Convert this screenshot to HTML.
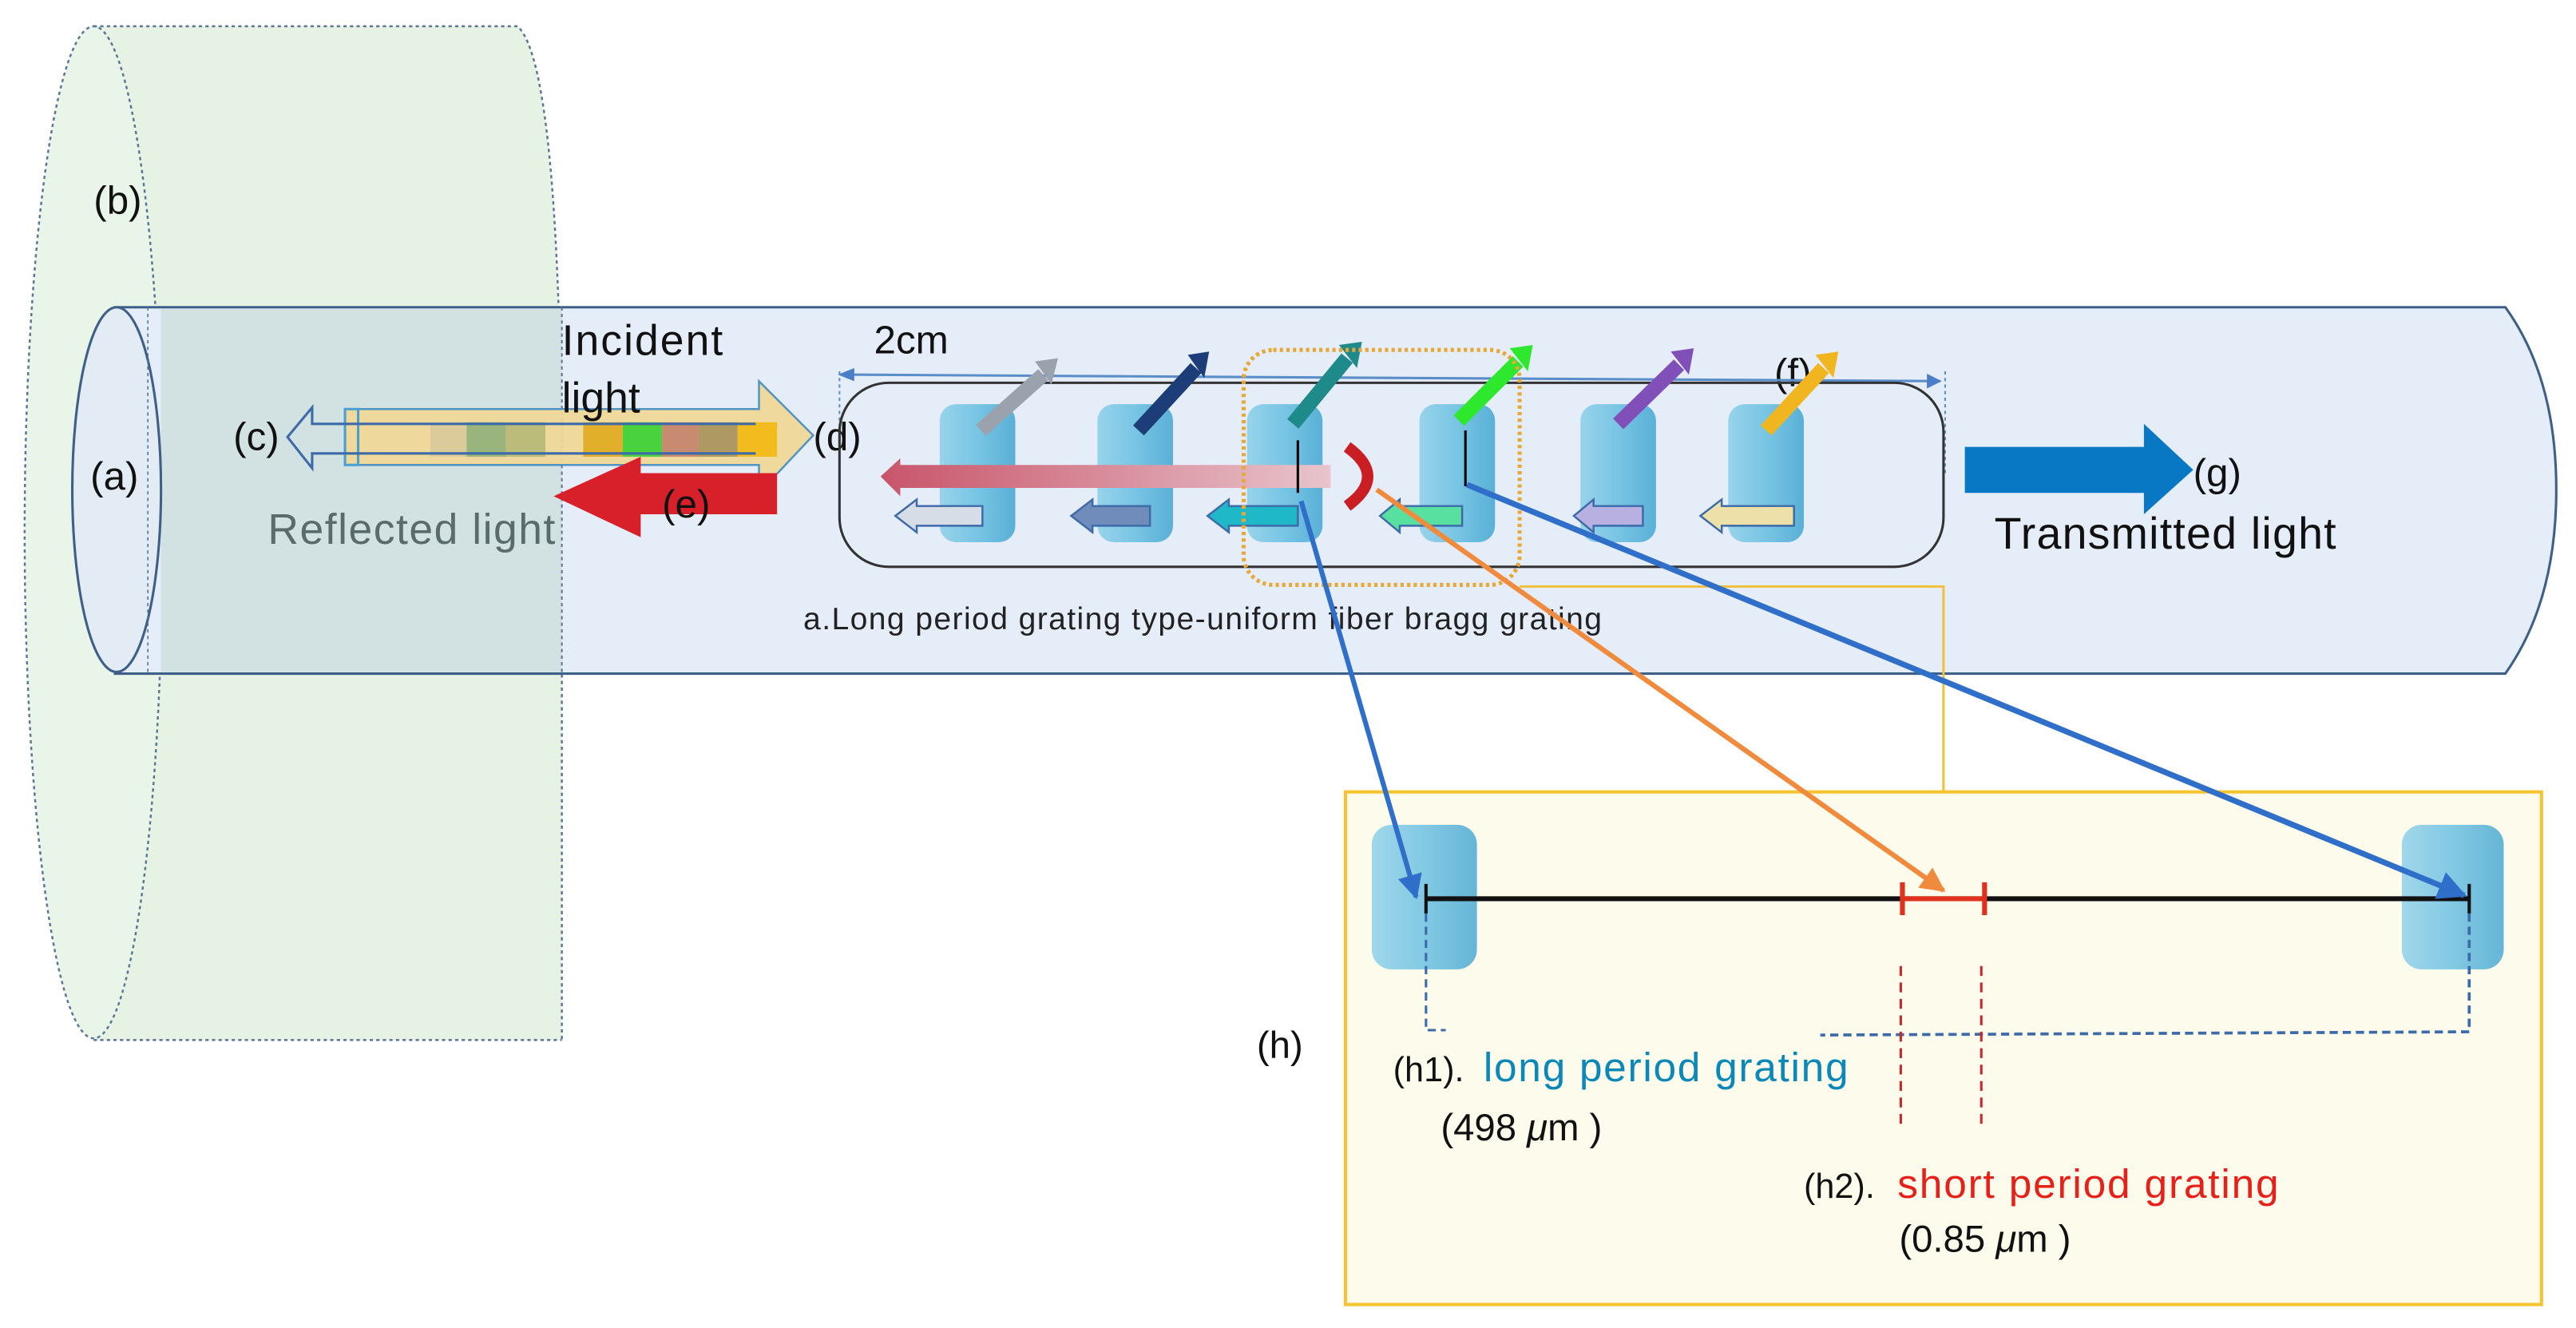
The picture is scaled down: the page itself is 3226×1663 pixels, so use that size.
<!DOCTYPE html>
<html><head><meta charset="utf-8"><style>
html,body{margin:0;padding:0;background:#fff;}
svg{display:block;}
text{font-family:"Liberation Sans",sans-serif;}
</style></head><body>
<svg width="3226" height="1663" viewBox="0 0 1568 808.3" preserveAspectRatio="none" xmlns="http://www.w3.org/2000/svg">
<defs>
<linearGradient id="disc" x1="0" x2="1" y1="0" y2="0"><stop offset="0" stop-color="#8fd0ea"/><stop offset="0.5" stop-color="#6cc0e2"/><stop offset="1" stop-color="#4aa9d3"/></linearGradient>
<linearGradient id="pink" x1="0" x2="1"><stop offset="0" stop-color="#c8556a"/><stop offset="1" stop-color="#e8c4cc"/></linearGradient>
<marker id="mb" viewBox="0 0 10 10" refX="9" refY="5" markerWidth="5" markerHeight="5" orient="auto"><path d="M0,0L10,5L0,10z" fill="#2f6fc9"/></marker>
<marker id="mo" viewBox="0 0 10 10" refX="9" refY="5" markerWidth="5" markerHeight="5" orient="auto"><path d="M0,0L10,5L0,10z" fill="#f08a3c"/></marker>
<marker id="ms" viewBox="0 0 10 10" refX="9" refY="5" markerWidth="6" markerHeight="6" orient="auto"><path d="M0,0L10,5L0,10z" fill="#4a7fc8"/></marker>
</defs>
<path d="M57,16 L315,16 Q342,40 342,320 L342,633 L57,633 Z" fill="#e6f3e4"/>
<ellipse cx="57" cy="324" rx="42" ry="308" fill="#eaf5ea" stroke="#5a7595" stroke-width="1.2" stroke-dasharray="2,2"/>
<path d="M57,16 L315,16 Q342,40 342,320 L342,633" fill="none" stroke="#5a7595" stroke-width="1.2" stroke-dasharray="2,2"/>
<line x1="57" y1="633" x2="342" y2="633" stroke="#5a7595" stroke-width="1.2" stroke-dasharray="2,2"/>
<path d="M70,187 L1525,187 Q1556,230 1556,298 Q1556,366 1525,410 L70,410 Z" fill="#e5edf8" stroke="#3d5f88" stroke-width="1.5"/>
<rect x="98" y="188" width="244" height="221" fill="#cfe0df" opacity="0.9"/>
<ellipse cx="71" cy="298" rx="27" ry="111" fill="#e3ebf5" stroke="#3d5f88" stroke-width="1.5"/>
<line x1="342" y1="187" x2="342" y2="410" stroke="#5a7595" stroke-width="1" stroke-dasharray="2,2"/>
<line x1="90" y1="187" x2="90" y2="410" stroke="#5a7595" stroke-width="0.8" stroke-dasharray="2,2"/>
<path d="M210,249 L462,249 L462,232 L495,265 L462,300 L462,283 L210,283 Z" fill="#f0d898" stroke="#4a8fc0" stroke-width="1.2" opacity="0.95"/>
<rect x="210" y="249" width="8" height="34" fill="none" stroke="#4aa0d0" stroke-width="1.5"/>
<g opacity="0.85">
<rect x="262" y="257" width="22" height="21" fill="#d9c99a"/>
<rect x="284" y="257" width="24" height="21" fill="#8cae7a"/>
<rect x="308" y="257" width="24" height="21" fill="#b3b874"/>
<rect x="355" y="257" width="24" height="21" fill="#e0a818"/>
<rect x="379" y="257" width="24" height="21" fill="#2ed02e"/>
<rect x="403" y="257" width="22" height="21" fill="#c27e6a"/>
<rect x="425" y="257" width="24" height="21" fill="#a58e58"/>
<rect x="449" y="257" width="24" height="21" fill="#f3b80a"/>
</g>
<path d="M460,258 L190,258 L190,248 L175,266 L190,285 L190,276 L460,276" fill="none" stroke="#3d6aa8" stroke-width="1.5"/>
<path d="M473,288 L390,288 L390,278 L337,302 L390,327 L390,313 L473,313 Z" fill="#d8202a"/>
<text x="342" y="216" font-size="26" fill="#111" textLength="98">Incident</text>
<text x="342" y="251" font-size="26" fill="#111">light</text>
<text x="163" y="331" font-size="26" fill="#5a6b6b" textLength="175">Reflected light</text>
<text x="57" y="130" font-size="24" fill="#111">(b)</text>
<text x="55" y="298" font-size="24" fill="#111">(a)</text>
<text x="142" y="274" font-size="24" fill="#111">(c)</text>
<text x="495" y="274" font-size="24" fill="#111">(d)</text>
<text x="403" y="315" font-size="24" fill="#111">(e)</text>
<text x="1080" y="235" font-size="24" fill="#111">(f)</text>
<text x="1335" y="296" font-size="24" fill="#111">(g)</text>
<text x="532" y="215" font-size="24" fill="#111">2cm</text>
<line x1="512" y1="228" x2="1181" y2="232" stroke="#5b8ec8" stroke-width="1.5" marker-end="url(#ms)"/>
<path d="M520,224 L510,228 L520,232z" fill="#4a7fc8"/>
<line x1="511" y1="226" x2="511" y2="290" stroke="#5b8ec8" stroke-dasharray="2,2"/>
<line x1="1184" y1="226" x2="1184" y2="290" stroke="#5b8ec8" stroke-dasharray="2,2"/>
<rect x="511" y="233" width="672" height="112" rx="30" fill="none" stroke="#333" stroke-width="1.5"/>
<g>
<rect x="572" y="246" width="46" height="84" rx="10" fill="url(#disc)" opacity="0.9"/>
<rect x="668" y="246" width="46" height="84" rx="10" fill="url(#disc)" opacity="0.9"/>
<rect x="759" y="246" width="46" height="84" rx="10" fill="url(#disc)" opacity="0.9"/>
<rect x="864" y="246" width="46" height="84" rx="10" fill="url(#disc)" opacity="0.9"/>
<rect x="962" y="246" width="46" height="84" rx="10" fill="url(#disc)" opacity="0.9"/>
<rect x="1052" y="246" width="46" height="84" rx="10" fill="url(#disc)" opacity="0.9"/>
</g>
<g stroke-width="9" stroke-linecap="butt" fill="none">
<line x1="597" y1="262" x2="635" y2="228" stroke="#9aa3ad"/>
<line x1="693" y1="262" x2="728" y2="224" stroke="#1c3d78"/>
<line x1="787" y1="258" x2="820" y2="218" stroke="#1e8a8a"/>
<line x1="888" y1="256" x2="924" y2="220" stroke="#2ee82e"/>
<line x1="985" y1="258" x2="1022" y2="222" stroke="#8050b8"/>
<line x1="1075" y1="262" x2="1110" y2="224" stroke="#f1b520"/>
</g>
<g>
<path d="M630,220 L644,218 L640,234z" fill="#9aa3ad"/>
<path d="M723,216 L736,214 L733,230z" fill="#1c3d78"/>
<path d="M815,210 L829,208 L826,224z" fill="#1e8a8a"/>
<path d="M919,212 L933,210 L930,226z" fill="#2ee82e"/>
<path d="M1017,214 L1031,212 L1028,228z" fill="#8050b8"/>
<path d="M1105,216 L1119,214 L1116,230z" fill="#f1b520"/>
</g>
<g stroke-width="1.2">
<path d="M598,308 L558,308 L558,304 L545,314 L558,324 L558,320 L598,320z" fill="#d7dde6" stroke="#3d6aa8"/>
<path d="M700,308 L665,308 L665,304 L652,314 L665,324 L665,320 L700,320z" fill="#6f8cba" stroke="#3d6aa8"/>
<path d="M790,308 L748,308 L748,304 L735,314 L748,324 L748,320 L790,320z" fill="#1fb8c8" stroke="#3d6aa8"/>
<path d="M890,308 L852,308 L852,304 L840,314 L852,324 L852,320 L890,320z" fill="#58e0a0" stroke="#3d6aa8"/>
<path d="M1000,308 L970,308 L970,304 L958,314 L970,324 L970,320 L1000,320z" fill="#b8b0e0" stroke="#3d6aa8"/>
<path d="M1092,308 L1048,308 L1048,304 L1035,314 L1048,324 L1048,320 L1092,320z" fill="#ede0a8" stroke="#3d6aa8"/>
</g>
<path d="M810,283 L548,283 L548,279 L536,290 L548,302 L548,297 L810,297z" fill="url(#pink)"/>
<path d="M820,272 Q845,290 820,308" fill="none" stroke="#c81e24" stroke-width="7"/>
<line x1="790" y1="268" x2="790" y2="300" stroke="#000" stroke-width="1.5"/>
<line x1="892" y1="262" x2="892" y2="296" stroke="#000" stroke-width="1.5"/>
<rect x="757" y="213" width="168" height="143" rx="18" fill="none" stroke="#e8a838" stroke-width="2.5" stroke-dasharray="2,2"/>
<text x="489" y="383" font-size="19" fill="#222" textLength="486">a.Long period grating type-uniform fiber bragg grating</text>
<path d="M1196,272 L1305,272 L1305,258 L1335,286 L1305,313 L1305,300 L1196,300z" fill="#0878c4"/>
<text x="1214" y="334" font-size="27" fill="#111" textLength="208">Transmitted light</text>
<polyline points="925,357 1183,357 1183,482" fill="none" stroke="#f0c040" stroke-width="1.5"/>
<rect x="819" y="482" width="728" height="312" fill="#fdfbec" stroke="#f5c430" stroke-width="2"/>
<rect x="835" y="502" width="64" height="88" rx="12" fill="url(#disc)" opacity="0.85"/>
<rect x="1462" y="502" width="62" height="88" rx="12" fill="url(#disc)" opacity="0.85"/>
<line x1="868" y1="547" x2="1503" y2="547" stroke="#111" stroke-width="3"/>
<line x1="868" y1="538" x2="868" y2="556" stroke="#111" stroke-width="2"/>
<line x1="1503" y1="538" x2="1503" y2="556" stroke="#111" stroke-width="2"/>
<line x1="1158" y1="547" x2="1208" y2="547" stroke="#e0301e" stroke-width="3"/>
<line x1="1158" y1="537" x2="1158" y2="557" stroke="#e0301e" stroke-width="3"/>
<line x1="1208" y1="537" x2="1208" y2="557" stroke="#e0301e" stroke-width="3"/>
<polyline points="868,556 868,627 880,627" fill="none" stroke="#3d6aa8" stroke-width="1.5" stroke-dasharray="5,3"/>
<polyline points="1503,556 1503,628 1108,630" fill="none" stroke="#3d6aa8" stroke-width="1.8" stroke-dasharray="5,3"/>
<line x1="1157" y1="588" x2="1157" y2="686" stroke="#c8282a" stroke-width="1.5" stroke-dasharray="6,4"/>
<line x1="1206" y1="588" x2="1206" y2="686" stroke="#c8282a" stroke-width="1.5" stroke-dasharray="6,4"/>
<text x="765" y="644" font-size="23" fill="#111">(h)</text>
<text x="848" y="658" font-size="21" fill="#111">(h1). </text>
<text x="903" y="658" font-size="25" fill="#0a88b8" textLength="222">long period grating</text>
<text x="877" y="694" font-size="23" fill="#111">(498 <tspan font-style="italic">μ</tspan>m )</text>
<text x="1098" y="729" font-size="21" fill="#111">(h2). </text>
<text x="1155" y="729" font-size="25" fill="#e8201a" textLength="232">short period grating</text>
<text x="1156" y="762" font-size="23" fill="#111">(0.85 <tspan font-style="italic">μ</tspan>m )</text>
<line x1="792" y1="305" x2="862" y2="546" stroke="#2f6fc9" stroke-width="3" marker-end="url(#mb)"/>
<line x1="838" y1="298" x2="1183" y2="542" stroke="#f08a3c" stroke-width="3" marker-end="url(#mo)"/>
<line x1="893" y1="295" x2="1500" y2="545" stroke="#2f6fc9" stroke-width="3.5" marker-end="url(#mb)"/>
</svg>
</body></html>
